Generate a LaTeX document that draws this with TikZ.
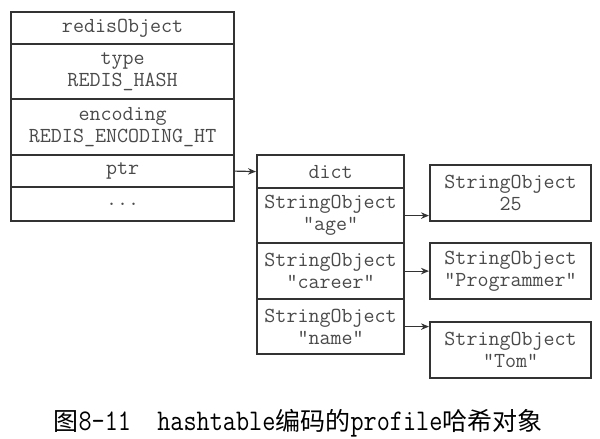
\documentclass[tikz,border=0pt]{standalone}
\usepackage{fontspec}
\newfontfamily\cjk{Noto Sans CJK SC}
\newfontfamily\capmono[FakeStretch=0.85]{Latin Modern Mono}
\usetikzlibrary{arrows.meta}
\definecolor{boxline}{HTML}{333333}
\definecolor{boxtext}{HTML}{4A4A4A}
\newcommand{\capcjk}[1]{{\cjk\fontsize{25}{25}\selectfont #1}}
\newcommand{\caplat}[1]{{\capmono\fontsize{30}{30}\selectfont #1}}

\begin{document}
\begin{tikzpicture}[x=1pt, y=-1pt,
  field/.style={draw=boxline, line width=2.2pt, rectangle, anchor=north west, inner sep=0pt,
    align=center, text=boxtext, font=\fontsize{21.4}{22}\selectfont\ttfamily},
  link/.style={draw=boxline, line width=1.2pt, -{Stealth[length=8pt,width=6.5pt]}}]
\useasboundingbox (0,0) rectangle (600,439);

% REDIS OBJECT
\node[field, minimum width=223pt, minimum height=32pt] (robj) at (10,11) {redisObject};
\node[field, minimum width=223pt, minimum height=55pt] (rtype) at (10,43) {type\\REDIS\_HASH};
\node[field, minimum width=223pt, minimum height=56pt] (renc) at (10,98) {encoding\\REDIS\_ENCODING\_HT};
\node[field, minimum width=223pt, minimum height=32pt] (rptr) at (10,154) {ptr};
\node[field, minimum width=223pt, minimum height=34pt] (rmore) at (10,186) {...};

% DICT
\node[field, minimum width=147pt, minimum height=33pt] (dhead) at (256,154) {dict};
\node[field, minimum width=147pt, minimum height=55pt] (dage) at (256,187) {StringObject\\"age"};
\node[field, minimum width=147pt, minimum height=56pt] (dcareer) at (256,242) {StringObject\\"career"};
\node[field, minimum width=147pt, minimum height=55pt] (dname) at (256,298) {StringObject\\"name"};

% values
\node[field, minimum width=161pt, minimum height=56pt] (vage) at (429,164) {StringObject\\25};
\node[field, minimum width=161pt, minimum height=56pt] (vcareer) at (429,242) {StringObject\\"Programmer"};
\node[field, minimum width=161pt, minimum height=56pt] (vname) at (429,321) {StringObject\\"Tom"};

% pointers
\draw[link] (rptr.east) -- (dhead.west);
\draw[link] (dage.east) -- (vage.west |- dage.east);
\draw[link] (dcareer.east) -- (vcareer.west |- dcareer.east);
\draw[link] (dname.east) -- (vname.west |- dname.east);

% caption
\node[anchor=base, inner sep=0pt] (caption) at (298,430)
  {\capcjk{图}\caplat{8-11\ \ hashtable}\capcjk{编码的}\caplat{profile}\capcjk{哈希对象}};

\end{tikzpicture}
\end{document}
